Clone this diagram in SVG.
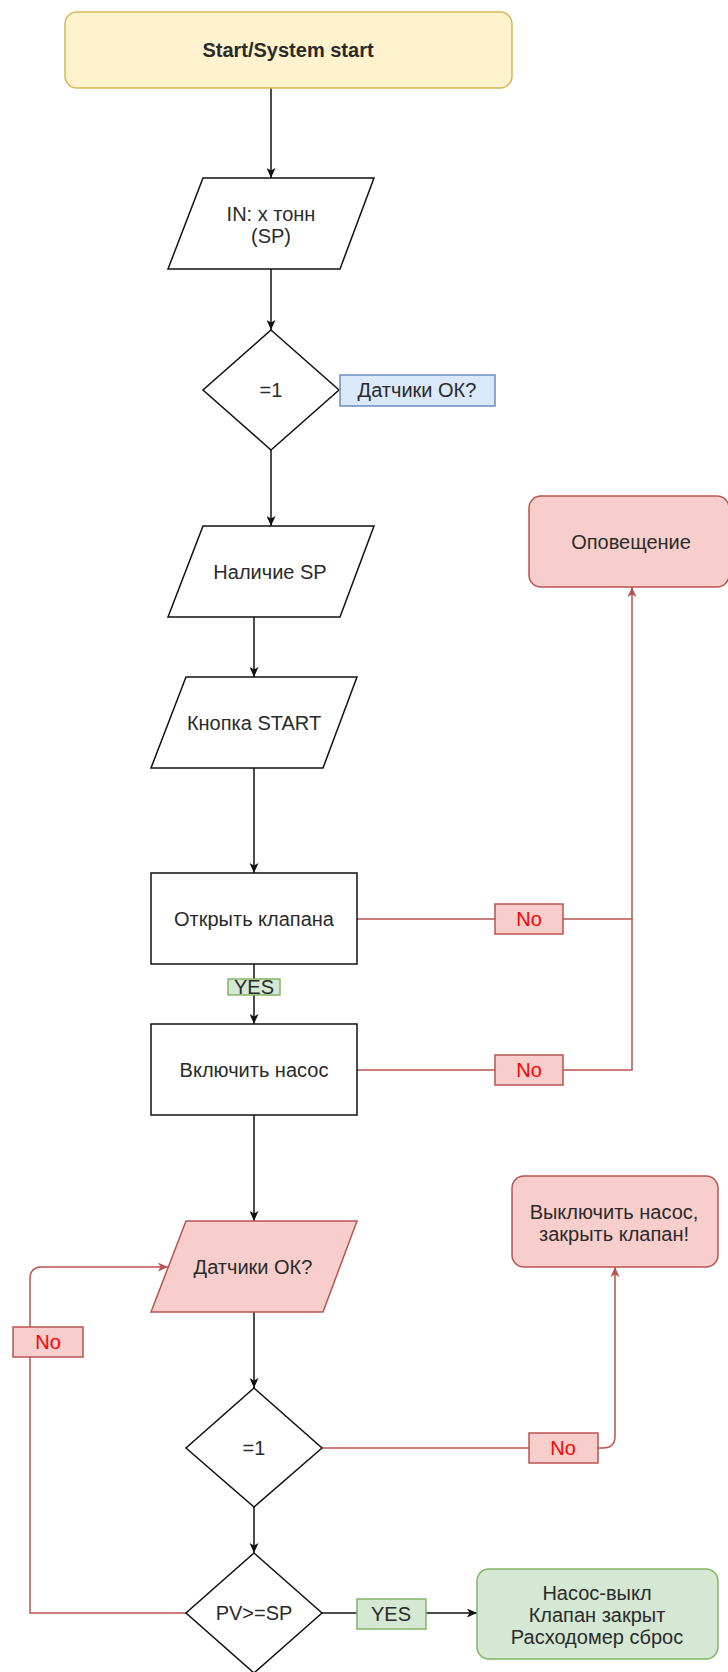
<svg xmlns="http://www.w3.org/2000/svg" width="728" height="1672" viewBox="0 0 728 1672">
<style>
text{font-family:"Liberation Sans",Arial,sans-serif;font-size:20px;fill:#2a2a2a;text-anchor:middle;dominant-baseline:central}
.b{fill:#fff;stroke:#111;stroke-width:1.5}
.red{fill:#f8cecc;stroke:#b85450;stroke-width:1.5}
.grn{fill:#d5e8d4;stroke:#82b366;stroke-width:1.5}
.blu{fill:#dae8fc;stroke:#6c8ebf;stroke-width:1.5}
.yel{fill:#fff2cc;stroke:#d6b656;stroke-width:1.5}
.cb{fill:none;stroke:#111;stroke-width:1.5}
.cr{fill:none;stroke:#b85450;stroke-width:1.5}
.no{fill:#ff0000}
</style>
<defs>
<marker id="ab" viewBox="0 0 10 9" refX="10" refY="4.5" markerWidth="10" markerHeight="9" markerUnits="userSpaceOnUse" orient="auto"><path d="M0,0 L10,4.5 L0,9 L2.5,4.5 z" fill="#111"/></marker>
<marker id="ar" viewBox="0 0 10 9" refX="10" refY="4.5" markerWidth="10" markerHeight="9" markerUnits="userSpaceOnUse" orient="auto"><path d="M0,0 L10,4.5 L0,9 L2.5,4.5 z" fill="#b85450"/></marker>
</defs>
<g id="connectors">
<path class="cb" d="M271,88 V178" marker-end="url(#ab)"/>
<path class="cb" d="M271,269 V330" marker-end="url(#ab)"/>
<path class="cb" d="M271,450 V526" marker-end="url(#ab)"/>
<path class="cb" d="M254,617 V677" marker-end="url(#ab)"/>
<path class="cb" d="M254,768 V873" marker-end="url(#ab)"/>
<path class="cb" d="M254,964 V1024" marker-end="url(#ab)"/>
<path class="cb" d="M254,1115 V1221" marker-end="url(#ab)"/>
<path class="cb" d="M254,1312 V1388" marker-end="url(#ab)"/>
<path class="cb" d="M254,1507 V1553" marker-end="url(#ab)"/>
<path class="cb" d="M322,1613 H477" marker-end="url(#ab)"/>
<path class="cr" d="M357,919 H632 V587" marker-end="url(#ar)"/>
<path class="cr" d="M357,1070 H632 V919"/>
<path class="cr" d="M322,1448 H603 Q615,1448 615,1436 V1267" marker-end="url(#ar)"/>
<path class="cr" d="M186,1613 H30 V1279 Q30,1267 42,1267 H168" marker-end="url(#ar)"/>
</g>
<g id="start"><rect class="yel" x="65" y="12" width="447" height="76" rx="12"/><text x="288" y="50" style="font-weight:bold">Start/System start</text></g>
<g id="in"><polygon class="b" points="203,178 374,178 340,269 168,269"/><text x="271" y="214">IN: х тонн</text><text x="271" y="236">(SP)</text></g>
<g id="dec1"><polygon class="b" points="271,330 339,390 271,450 203,390"/><text x="271" y="390">=1</text></g>
<g id="lbl-sensors"><rect class="blu" x="340" y="375" width="155" height="31"/><text x="417" y="390">Датчики ОК?</text></g>
<g id="sp"><polygon class="b" points="203,526 374,526 340,617 168,617"/><text x="270" y="572">Наличие SP</text></g>
<g id="btn"><polygon class="b" points="186,677 357,677 323,768 151,768"/><text x="254" y="723">Кнопка START</text></g>
<g id="notify"><rect class="red" x="529" y="496" width="200" height="91" rx="12"/><text x="631" y="542">Оповещение</text></g>
<g id="open"><rect class="b" x="151" y="873" width="206" height="91"/><text x="254" y="919">Открыть клапана</text></g>
<g id="no1"><rect class="red" x="495" y="904" width="68" height="30"/><text class="no" x="529" y="919">No</text></g>
<g id="yes1"><rect class="grn" x="228" y="979" width="52" height="16"/><text x="254" y="987">YES</text></g>
<g id="pump"><rect class="b" x="151" y="1024" width="206" height="91"/><text x="254" y="1070">Включить насос</text></g>
<g id="no2"><rect class="red" x="495" y="1055" width="68" height="30"/><text class="no" x="529" y="1070">No</text></g>
<g id="sens"><polygon class="red" points="186,1221 357,1221 323,1312 151,1312"/><text x="253" y="1267">Датчики ОК?</text></g>
<g id="stop"><rect class="red" x="512" y="1176" width="206" height="91" rx="12"/><text x="614" y="1212">Выключить насос,</text><text x="614" y="1234">закрыть клапан!</text></g>
<g id="no3"><rect class="red" x="13" y="1327" width="70" height="30"/><text class="no" x="48" y="1342">No</text></g>
<g id="dec2"><polygon class="b" points="254,1388 322,1448 254,1507 186,1448"/><text x="254" y="1448">=1</text></g>
<g id="no4"><rect class="red" x="529" y="1433" width="69" height="30"/><text class="no" x="563" y="1448">No</text></g>
<g id="dec3"><polygon class="b" points="254,1553 322,1613 254,1673 186,1613"/><text x="254" y="1613">PV&gt;=SP</text></g>
<g id="yes2"><rect class="grn" x="357" y="1599" width="69" height="30"/><text x="391" y="1614">YES</text></g>
<g id="done"><rect class="grn" x="477" y="1569" width="241" height="90" rx="12"/><text x="597" y="1593">Насос-выкл</text><text x="597" y="1615">Клапан закрыт</text><text x="597" y="1637">Расходомер сброс</text></g>
</svg>
